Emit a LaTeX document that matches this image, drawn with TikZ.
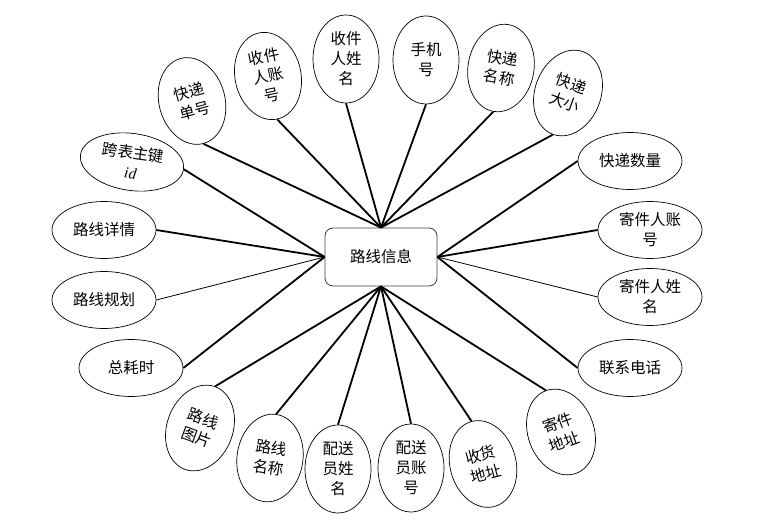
\documentclass[tikz,border=0pt]{standalone}
\usepackage{fontspec}
\setmainfont{Noto Sans CJK SC}
\newfontfamily\latinserif{Liberation Serif}
\usetikzlibrary{shapes.geometric}
\begin{document}
\begin{tikzpicture}[x=1pt,y=-1pt,
  attr/.style={draw=black, line width=0.7pt, ellipse, inner sep=0pt, align=center,
    font=\fontsize{15.5}{20}\selectfont, fill=white},
  hattr/.style={attr, minimum width=104pt, minimum height=57pt},
  vattr/.style={attr, minimum width=66pt, minimum height=88pt},
  centerbox/.style={draw=black!75, line width=0.8pt, rounded corners=8pt, fill=white,
    minimum width=112pt, minimum height=58pt, font=\fontsize{15.5}{20}\selectfont},
  link/.style={line width=1.8pt},
  thinlink/.style={line width=0.8pt}]
\useasboundingbox (0,0) rectangle (782,526);

\node[centerbox] (c) at (381,257) {路线信息};

% top
\node[vattr, rotate=15]  (k1) at (192,101) {快递\\单号};
\node[vattr, rotate=12]  (k2) at (268,76)  {收件\\人账\\号};
\node[vattr]             (k3) at (346,59)  {收件\\人姓\\名};
\node[vattr]             (k4) at (426,60)  {手机\\号};
\node[vattr, rotate=-10] (k5) at (501,68)  {快递\\名称};
\node[vattr, rotate=-20] (k6) at (568,93)  {快递\\大小};
% right
\node[hattr] (r1) at (630,161) {快递数量};
\node[hattr] (r2) at (650,230) {寄件人账\\号};
\node[hattr] (r3) at (650,297) {寄件人姓\\名};
\node[hattr] (r4) at (630,368) {联系电话};
% bottom
\node[vattr, rotate=20]  (b1) at (561,432) {寄件\\地址};
\node[vattr, rotate=15]  (b2) at (483,464) {收货\\地址};
\node[vattr]             (b3) at (411,468) {配送\\员账\\号};
\node[vattr]             (b4) at (338,469) {配送\\员姓\\名};
\node[vattr, rotate=-8]  (b5) at (270,458) {路线\\名称};
\node[vattr, rotate=-20] (b6) at (200,428) {路线\\图片};
% left
\node[hattr] (l1) at (131,368) {总耗时};
\node[hattr] (l2) at (104,300) {路线规划};
\node[hattr] (l3) at (104,230) {路线详情};
\node[hattr, rotate=-8] (l4) at (132,162) {跨表主键\\{\latinserif\itshape id}};

\draw[link] (c.north) -- (k1.south);
\draw[link] (c.north) -- (k2.south);
\draw[link] (c.north) -- (k3.south);
\draw[link] (c.north) -- (k4.south);
\draw[link] (c.north) -- (k5.south);
\draw[link] (c.north) -- (k6.south);

\draw[link] (c.east) -- (r1.west);
\draw[link] (c.east) -- (r2.west);
\draw[thinlink] (c.east) -- (r3.west);
\draw[link] (c.east) -- (r4.west);

\draw[link] (c.south) -- (b1.north);
\draw[link] (c.south) -- (b2.north);
\draw[link] (c.south) -- (b3.north);
\draw[link] (c.south) -- (b4.north);
\draw[link] (c.south) -- (b5.north);
\draw[link] (c.south) -- (b6.north);

\draw[link] (c.west) -- (l1.east);
\draw[thinlink] (c.west) -- (l2.east);
\draw[link] (c.west) -- (l3.east);
\draw[link] (c.west) -- (l4.east);
\end{tikzpicture}
\end{document}
